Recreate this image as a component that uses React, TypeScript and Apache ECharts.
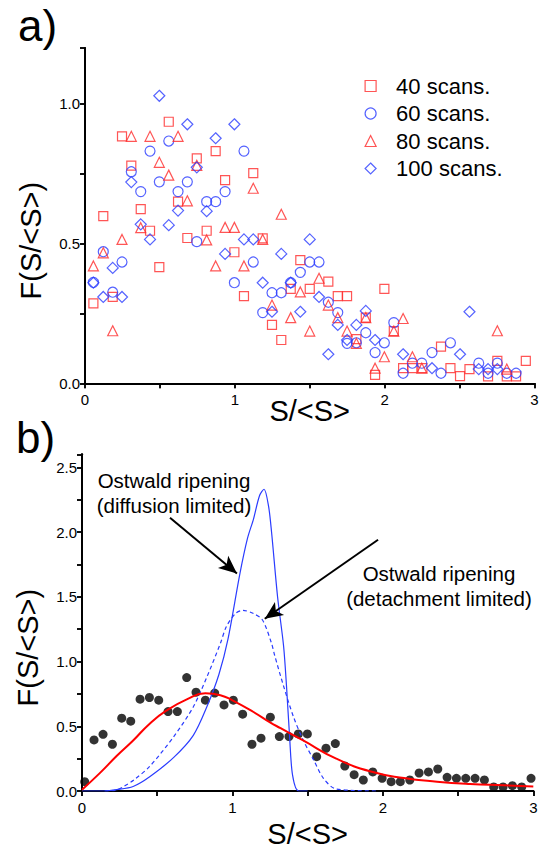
import React, { useEffect, useRef } from 'react';
import * as echarts from 'echarts';

// ---------- Panel a data ----------
const scans40X = [0.056,0.122,0.185,0.247,0.309,0.372,0.434,0.496,0.559,0.621,0.683,0.746,0.812,0.872,0.935,0.997,1.061,1.123,1.186,1.248,1.310,1.373,1.437,1.500,1.624,1.687,1.749,1.811,1.874,1.936,1.998,2.061,2.123,2.185,2.252,2.376,2.439,2.503,2.566,2.690,2.752,2.815,2.877,2.942];
const scans40Y = [0.286,0.598,0.309,0.884,0.779,0.623,0.546,0.416,0.936,0.650,0.520,0.805,0.546,0.831,0.727,0.469,0.312,0.752,0.519,0.209,0.155,0.338,0.441,0.338,0.364,0.312,0.312,0.158,0.235,0.030,0.338,0.187,0.054,0.054,0.054,0.131,0.054,0.026,0.051,0.025,0.080,0.025,0.025,0.080];

const scans60X = [0.056,0.122,0.185,0.247,0.309,0.372,0.434,0.496,0.559,0.621,0.683,0.746,0.812,0.872,0.935,0.997,1.061,1.123,1.186,1.248,1.310,1.373,1.437,1.500,1.562,1.624,1.687,1.749,1.811,1.874,1.936,1.998,2.061,2.123,2.185,2.248,2.316,2.376,2.439,2.628,2.690,2.752,2.815,2.877];
const scans60Y = [0.361,0.471,0.326,0.434,0.757,0.686,0.831,0.721,0.867,0.686,0.721,0.507,0.650,0.650,0.686,0.360,0.831,0.434,0.253,0.324,0.324,0.360,0.397,0.434,0.434,0.290,0.253,0.143,0.145,0.181,0.110,0.145,0.217,0.036,0.072,0.072,0.110,0.036,0.145,0.072,0.036,0.072,0.036,0.036];

const scans80X = [0.056,0.122,0.185,0.247,0.309,0.372,0.434,0.496,0.559,0.621,0.683,0.746,0.812,0.872,0.935,0.997,1.061,1.123,1.186,1.248,1.310,1.373,1.437,1.500,1.562,1.624,1.687,1.749,1.811,1.874,1.936,1.998,2.061,2.123,2.185,2.248,2.752,2.815];
const scans80Y = [0.420,0.467,0.188,0.515,0.884,0.557,0.884,0.791,0.745,0.884,0.653,0.780,0.513,0.420,0.558,0.558,0.420,0.698,0.515,0.280,0.605,0.235,0.327,0.187,0.376,0.280,0.235,0.187,0.143,0.235,0.054,0.095,0.187,0.232,0.095,0.054,0.188,0.051];

const scans100X = [0.056,0.122,0.185,0.247,0.309,0.372,0.434,0.496,0.559,0.621,0.683,0.746,0.812,0.872,0.935,0.997,1.061,1.123,1.186,1.248,1.310,1.373,1.437,1.500,1.562,1.624,1.687,1.749,1.811,1.874,1.936,2.123,2.316,2.503,2.566,2.628,2.690,2.752];
const scans100Y = [0.360,0.309,0.413,0.309,0.720,0.569,0.515,1.029,0.566,0.618,0.927,0.773,0.616,0.877,0.463,0.927,0.515,0.515,0.360,0.256,0.463,0.360,0.256,0.515,0.309,0.104,0.209,0.155,0.209,0.259,0.155,0.104,0.054,0.104,0.256,0.051,0.051,0.051];

// ---------- Panel b data ----------
const dotsX = [0.018,0.080,0.140,0.202,0.264,0.324,0.386,0.448,0.510,0.572,0.634,0.696,0.758,0.820,0.882,0.944,1.006,1.068,1.130,1.190,1.252,1.312,1.376,1.438,1.498,1.560,1.622,1.684,1.747,1.809,1.870,1.933,1.995,2.055,2.116,2.179,2.241,2.303,2.365,2.427,2.489,2.551,2.613,2.675,2.737,2.799,2.861,2.923,2.985];
const dotsY = [0.072,0.394,0.438,0.361,0.562,0.539,0.709,0.722,0.701,0.613,0.613,0.876,0.763,0.701,0.756,0.665,0.701,0.593,0.361,0.408,0.570,0.420,0.420,0.441,0.441,0.265,0.330,0.366,0.193,0.126,0.085,0.147,0.098,0.072,0.072,0.085,0.139,0.147,0.170,0.106,0.098,0.098,0.098,0.085,0.031,0.031,0.041,0.031,0.098];

const fitX = [0, 0.12, 0.23, 0.34, 0.45, 0.56, 0.70, 0.82, 0.92, 1.0, 1.14, 1.25, 1.32, 1.47, 1.69, 1.92, 2.14, 2.36, 2.58, 2.80, 3.0];
const fitY = [0.01, 0.14, 0.27, 0.39, 0.52, 0.62, 0.71, 0.755, 0.74, 0.70, 0.61, 0.53, 0.485, 0.39, 0.25, 0.15, 0.10, 0.072, 0.054, 0.044, 0.035];

const diffusionX = [0, 0.15, 0.23, 0.34, 0.45, 0.61, 0.74, 0.83, 0.91, 0.97, 1.05, 1.10, 1.14, 1.18, 1.21, 1.24, 1.26, 1.30, 1.34, 1.36, 1.38, 1.40, 1.44, 1.5];
const diffusionY = [0, 0, 0.01, 0.035, 0.11, 0.26, 0.43, 0.65, 0.90, 1.17, 1.68, 1.95, 2.10, 2.28, 2.33, 2.2, 2.0, 1.50, 1.12, 0.80, 0.42, 0.12, 0, 0];

const detachX = [0.15, 0.22, 0.275, 0.35, 0.45, 0.61, 0.74, 0.83, 0.92, 0.96, 1.02, 1.07, 1.14, 1.20, 1.26, 1.28, 1.34, 1.405, 1.47, 1.54, 1.605, 1.69, 1.97];
const detachY = [0, 0.005, 0.033, 0.09, 0.19, 0.42, 0.65, 0.88, 1.14, 1.27, 1.37, 1.395, 1.37, 1.32, 1.14, 1.05, 0.81, 0.575, 0.394, 0.24, 0.098, 0.015, 0];

const xTicks = [0, 1, 2, 3];

const zip = (xs: number[], ys: number[]) => xs.map((x, i) => [x, ys[i]]);

const FONT = 'Liberation Sans, Arial, sans-serif';
const RED = '#ff2a2a';
const BLUE = '#2a3cff';

const isHalf = (v: number) => Math.abs(v * 2 - Math.round(v * 2)) < 1e-6;

function xAxisPair(gridIndex: number) {
  const line = { show: true, lineStyle: { color: '#000', width: 2 } };
  return [
    {
      type: 'value', gridIndex, position: 'bottom', min: 0, max: 3, interval: 0.5,
      axisLine: line,
      axisTick: { show: true, length: 5, inside: false, lineStyle: { color: '#000', width: 1.5 } },
      axisLabel: {
        show: true, margin: 9, color: '#000', fontSize: 15, fontFamily: FONT,
        formatter: (v: number) => (xTicks.includes(v) ? String(v) : ''),
      },
      splitLine: { show: false },
      name: 'S/<S>', nameLocation: 'middle', nameGap: gridIndex === 0 ? 13 : 28,
      nameMoveOverlap: false,
      nameTextStyle: { fontSize: 29, fontFamily: FONT, color: '#000' },
    },
    {
      type: 'value', gridIndex, position: 'top', min: 0, max: 3, interval: 0.5,
      axisLine: line,
      axisTick: { show: true, length: 5, inside: true, lineStyle: { color: '#000', width: 1.5 } },
      axisLabel: { show: false },
      splitLine: { show: false },
    },
  ];
}

function yAxisPair(gridIndex: number, max: number) {
  const line = { show: true, lineStyle: { color: '#000', width: 2 } };
  return [
    {
      type: 'value', gridIndex, position: 'left', min: 0, max, interval: 0.25,
      axisLine: line,
      axisTick: { show: true, length: 5, inside: false, lineStyle: { color: '#000', width: 1.5 } },
      axisLabel: {
        show: true, margin: 5, color: '#000', fontSize: 15, fontFamily: FONT,
        formatter: (v: number) => (isHalf(v) ? v.toFixed(1) : ''),
      },
      splitLine: { show: false },
      name: 'F(S/<S>)', nameLocation: 'middle', nameRotate: 90, nameGap: 40,
      nameMoveOverlap: false,
      nameTextStyle: { fontSize: 29, fontFamily: FONT, color: '#000', padding: [0, 50, 0, 0] },
    },
    {
      type: 'value', gridIndex, position: 'right', min: 0, max, interval: 0.25,
      axisLine: line,
      axisTick: { show: true, length: 5, inside: true, lineStyle: { color: '#000', width: 1.5 } },
      axisLabel: { show: false },
      splitLine: { show: false },
    },
  ];
}

function hollow(color: string) {
  return { color: 'transparent', borderColor: color, borderWidth: 1.2 };
}

export default function App() {
  const ref = useRef<HTMLDivElement>(null);

  useEffect(() => {
    if (!ref.current) return;
    const chart = echarts.init(ref.current, null, { renderer: 'svg' });
    const option: any = {
      animation: false,
      backgroundColor: '#fff',
      textStyle: { fontFamily: FONT },
      grid: [
        { left: 85, top: 48, width: 449.5, height: 335.3 },
        { left: 82, top: 454.3, width: 451.3, height: 336.7 },
      ],
      xAxis: [...xAxisPair(0), ...xAxisPair(1)],
      yAxis: [...yAxisPair(0, 1.2), ...yAxisPair(1, 2.6)],
      legend: {
        orient: 'vertical', left: 359.5, top: 70, itemWidth: 11, itemHeight: 11, itemGap: 5.5,
        textStyle: { fontSize: 22, fontFamily: FONT, color: '#000', padding: [0, 0, 0, 15] },
        data: [
          { name: '40 scans.', icon: 'rect', itemStyle: hollow(RED) },
          { name: '60 scans.', icon: 'circle', itemStyle: hollow(BLUE) },
          { name: '80 scans.', icon: 'triangle', itemStyle: hollow(RED) },
          { name: '100 scans.', icon: 'diamond', itemStyle: hollow(BLUE) },
        ],
      },
      series: [
        { name: '40 scans.', type: 'scatter', xAxisIndex: 0, yAxisIndex: 0, symbol: 'rect', symbolSize: 9, itemStyle: hollow(RED), data: zip(scans40X, scans40Y) },
        { name: '60 scans.', type: 'scatter', xAxisIndex: 0, yAxisIndex: 0, symbol: 'circle', symbolSize: 10, itemStyle: hollow(BLUE), data: zip(scans60X, scans60Y) },
        { name: '80 scans.', type: 'scatter', xAxisIndex: 0, yAxisIndex: 0, symbol: 'triangle', symbolSize: 10, itemStyle: hollow(RED), data: zip(scans80X, scans80Y) },
        { name: '100 scans.', type: 'scatter', xAxisIndex: 0, yAxisIndex: 0, symbol: 'diamond', symbolSize: 11, itemStyle: hollow(BLUE), data: zip(scans100X, scans100Y) },
        {
          name: 'diffusion limited', type: 'line', xAxisIndex: 2, yAxisIndex: 2, showSymbol: false, smooth: 0.3,
          lineStyle: { color: BLUE, width: 1.2 }, data: zip(diffusionX, diffusionY),
        },
        {
          name: 'detachment limited', type: 'line', xAxisIndex: 2, yAxisIndex: 2, showSymbol: false, smooth: 0.3,
          lineStyle: { color: BLUE, width: 1.2, type: [4, 3] }, data: zip(detachX, detachY),
        },
        {
          name: 'data', type: 'scatter', xAxisIndex: 2, yAxisIndex: 2, symbol: 'circle', symbolSize: 9,
          itemStyle: { color: '#000' }, data: zip(dotsX, dotsY),
          markLine: {
            silent: true, symbol: ['none', 'arrow'], symbolSize: 16,
            label: { show: false },
            lineStyle: { color: '#000', width: 2, type: 'solid' },
            data: [
              [{ coord: [0.585, 2.11] }, { coord: [1.03, 1.68], symbol: 'arrow', symbolSize: [12, 18] }],
              [{ coord: [1.968, 1.94] }, { coord: [1.215, 1.33], symbol: 'arrow', symbolSize: [12, 18] }],
            ],
          },
        },
        {
          name: 'fit', type: 'line', xAxisIndex: 2, yAxisIndex: 2, showSymbol: false, smooth: true,
          lineStyle: { color: '#ff0000', width: 2 }, data: zip(fitX, fitY),
        },
      ],
      graphic: [
        { type: 'text', left: 18, top: 3, style: { text: 'a)', font: `44px ${FONT}`, fill: '#000' } },
        { type: 'text', left: 16, top: 415, style: { text: 'b)', font: `44px ${FONT}`, fill: '#000' } },
        {
          type: 'text', x: 174, y: 468, style: {
            text: 'Ostwald ripening\n(diffusion limited)', font: `20.5px ${FONT}`, fill: '#000',
            align: 'center', verticalAlign: 'top', lineHeight: 25,
          },
        },
        {
          type: 'text', x: 439, y: 561, style: {
            text: 'Ostwald ripening\n(detachment limited)', font: `20.5px ${FONT}`, fill: '#000',
            align: 'center', verticalAlign: 'top', lineHeight: 25,
          },
        },
      ],
    };
    chart.setOption(option);
    return () => chart.dispose();
  }, []);

  return <div ref={ref} style={{ position: 'fixed', left: 0, top: 0, width: 552, height: 852 }} />;
}
